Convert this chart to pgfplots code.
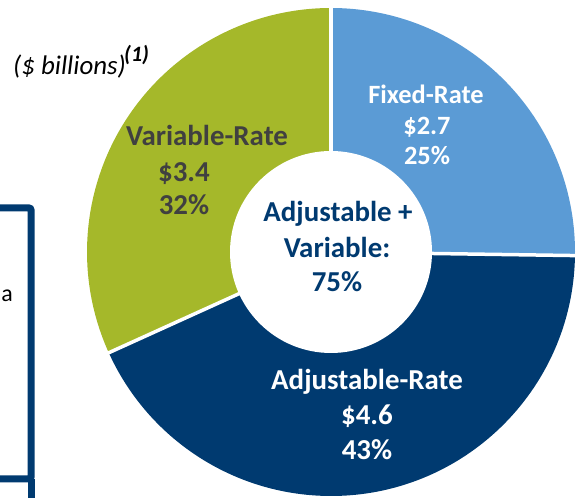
\documentclass[border=0pt]{standalone}
\usepackage{pgfplots}
\pgfplotsset{compat=1.18}
\usepackage{pgfplotstable}
\usepackage{fontspec}
\setmainfont{Carlito}
\definecolor{fixedc}{HTML}{5B9BD5}
\definecolor{adjc}{HTML}{003A70}
\definecolor{varc}{HTML}{A5B82A}
\definecolor{gtext}{HTML}{404040}
\pgfplotstableread{
name value pct
Fixed 2.7 25
Adjustable 4.6 43
Variable 3.4 32
}\slices
\begin{document}
\begin{tikzpicture}
\begin{axis}[
  at={(0,0)}, anchor=south west,
  scale only axis, width=582bp, height=498bp,
  xmin=0, xmax=582, ymin=0, ymax=498,
  hide axis, clip=true, clip mode=global]
\pgfplotstablegetelem{0}{value}\of\slices \let\vA\pgfplotsretval
\pgfplotstablegetelem{1}{value}\of\slices \let\vB\pgfplotsretval
\pgfplotstablegetelem{2}{value}\of\slices \let\vC\pgfplotsretval
\pgfmathsetmacro{\tot}{\vA+\vB+\vC}
\pgfmathsetmacro{\aA}{90}
\pgfmathsetmacro{\aB}{\aA-\vA/\tot*360}
\pgfmathsetmacro{\aC}{\aB-\vB/\tot*360}
\pgfmathsetmacro{\aD}{\aC-\vC/\tot*360}
\def\cx{331}\def\cy{246}
\fill[fixedc] (axis cs:\cx,\cy) -- ++(\aA:244bp) arc[start angle=\aA, end angle=\aB, radius=244bp] -- cycle;
\fill[adjc] (axis cs:\cx,\cy) -- ++(\aB:244bp) arc[start angle=\aB, end angle=\aC, radius=244bp] -- cycle;
\fill[varc] (axis cs:\cx,\cy) -- ++(\aC:244bp) arc[start angle=\aC, end angle=\aD, radius=244bp] -- cycle;
\draw[white, line width=3.5bp] (axis cs:\cx,\cy) -- ++(\aA:250bp);
\draw[white, line width=3.5bp] (axis cs:\cx,\cy) -- ++(\aB:250bp);
\draw[white, line width=3.5bp] (axis cs:\cx,\cy) -- ++(\aC:250bp);
\fill[white] (axis cs:\cx,\cy) circle[radius=101bp];
% labels (baseline-anchored)
\tikzset{lab/.style={anchor=base, inner sep=0pt, font=\bfseries\fontsize{29}{30}\selectfont}}
\tikzset{labf/.style={anchor=base, inner sep=0pt, font=\bfseries\fontsize{26.5}{28}\selectfont}}
\node[labf, text=white] at (axis cs:426,394) {Fixed-Rate};
\node[labf, text=white] at (axis cs:427,363) {\$2.7};
\node[labf, text=white] at (axis cs:427,333) {25\%};
\node[lab, text=gtext] at (axis cs:207,352) {Variable-Rate};
\node[lab, text=gtext] at (axis cs:184,316) {\$3.4};
\node[lab, text=gtext] at (axis cs:184,283) {32\%};
\node[lab, text=white] at (axis cs:367,108) {Adjustable-Rate};
\node[lab, text=white] at (axis cs:367,73) {\$4.6};
\node[lab, text=white] at (axis cs:367,38) {43\%};
\node[lab, text=adjc] at (axis cs:338,276) {Adjustable +};
\node[lab, text=adjc] at (axis cs:337,240) {Variable:};
\node[lab, text=adjc] at (axis cs:337,206) {75\%};
\node[anchor=base west, font=\itshape\fontsize{27}{29}\selectfont, text=black, inner sep=0pt] at (axis cs:13,423) {(\$ billions)};
\node[anchor=base west, font=\bfseries\itshape\fontsize{22}{24}\selectfont, text=black, inner sep=0pt] at (axis cs:124,436) {(1)};
\node[anchor=base east, font=\fontsize{24}{26}\selectfont, text=black, inner sep=0pt] at (axis cs:13,196) {a};
% left box
\draw[adjc, line width=7bp, rounded corners=2bp] (axis cs:-20,290) -- (axis cs:31,290) -- (axis cs:31,19) -- (axis cs:-20,19);
\draw[adjc, line width=7bp] (axis cs:31,19) -- (axis cs:31,-10);
\end{axis}
\pgfresetboundingbox
\useasboundingbox (0,0) rectangle (582bp,498bp);
\end{tikzpicture}
\end{document}
